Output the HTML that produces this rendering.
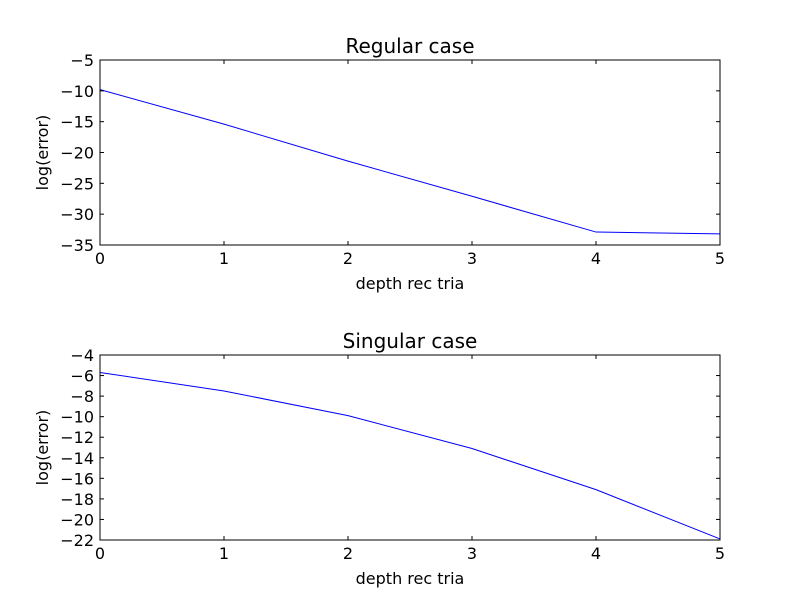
<!DOCTYPE html>
<html><head><meta charset="utf-8">
<style>
html,body{margin:0;padding:0;background:#fff;}
svg text{font-family:"DejaVu Sans","Liberation Sans",sans-serif;fill:#000;}
</style></head>
<body>
<svg id="chart" width="800" height="600" xmlns="http://www.w3.org/2000/svg"></svg>
<script>
const depths = [0, 1, 2, 3, 4, 5];
const regularErrors = [-9.8, -15.4, -21.4, -27.1, -32.9, -33.2];
const singularErrors = [-5.7, -7.5, -9.9, -13.1, -17.1, -21.9];
const xTicks = [0, 1, 2, 3, 4, 5];
const regularYTicks = [-5, -10, -15, -20, -25, -30, -35];
const singularYTicks = [-4, -6, -8, -10, -12, -14, -16, -18, -20, -22];

const svg = document.getElementById('chart');
const NS = 'http://www.w3.org/2000/svg';
function mk(tag, attrs, parent) {
  const e = document.createElementNS(NS, tag);
  for (const k in attrs) e.setAttribute(k, attrs[k]);
  parent.appendChild(e);
  return e;
}

function panel(name, title, yTicks, yMin, yMax, values, top, bottom) {
  const left = 100, right = 720;
  const g = mk('g', {}, svg);
  
  
  const xs = v => left + (v - 0) / 5 * (right - left);
  const ys = v => top + (yMax - v) / (yMax - yMin) * (bottom - top);

  const pts = depths.map((d, i) => xs(d) + ',' + ys(values[i])).join(' ');
  const line = mk('polyline', {points: pts, fill: 'none', stroke: '#0000ff', 'stroke-width': 1}, g);
  
  

  const frame = mk('rect', {x: left, y: top, width: right - left, height: bottom - top, fill: 'none', stroke: '#000', 'stroke-width': 1}, g);
  
  

  xTicks.forEach(t => {
    const x = xs(t);
    mk('line', {x1: x, y1: bottom, x2: x, y2: bottom - 4, stroke: '#000'}, g);
    mk('line', {x1: x, y1: top, x2: x, y2: top + 4, stroke: '#000'}, g);
    const tx = mk('text', {x: x, y: bottom + 19, 'font-size': 16, 'text-anchor': 'middle'}, g);
    tx.textContent = t;
    
    
  });
  yTicks.forEach(t => {
    const y = ys(t);
    mk('line', {x1: left, y1: y, x2: left + 4, y2: y, stroke: '#000'}, g);
    mk('line', {x1: right, y1: y, x2: right - 4, y2: y, stroke: '#000'}, g);
    const ty = mk('text', {x: left - 6, y: y + 6, 'font-size': 16, 'text-anchor': 'end'}, g);
    ty.textContent = '\u2212' + Math.abs(t);
    
    
  });
  const tt = mk('text', {x: (left + right) / 2, y: top - 7, 'font-size': 20, 'text-anchor': 'middle'}, g);
  tt.textContent = title;
  
  
  const xl = mk('text', {x: (left + right) / 2, y: bottom + 44, 'font-size': 16, 'text-anchor': 'middle'}, g);
  xl.textContent = 'depth rec tria';
  
  
  const cy = (top + bottom) / 2;
  const yl = mk('text', {x: 48, y: cy, 'font-size': 16, 'text-anchor': 'middle', transform: 'rotate(-90 48 ' + cy + ')'}, g);
  yl.textContent = 'log(error)';
  
  
}

panel('regular', 'Regular case', regularYTicks, -35, -5, regularErrors, 60, 245);
panel('singular', 'Singular case', singularYTicks, -22, -4, singularErrors, 355, 540);
</script>
</body></html>
